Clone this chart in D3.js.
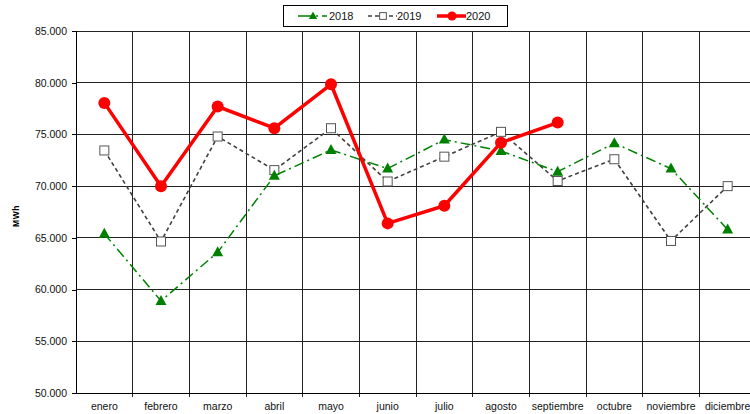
<!DOCTYPE html>
<html>
<head>
<meta charset="utf-8">
<script src="https://cdn.jsdelivr.net/npm/d3@7"></script>
<style>
  body { margin: 0; background: #fff; }
  svg { display: block; font-family: "Liberation Sans", Arial, sans-serif; }
</style>
</head>
<body>
<svg id="chart" width="750" height="414"></svg>
<script>
// data (MWh)
const months = ["enero", "febrero", "marzo", "abril", "mayo", "junio", "julio",
  "agosto", "septiembre", "octubre", "noviembre", "diciembre"];
const years = ["2018", "2019", "2020"];
const v2018 = [65400, 58900, 63600, 71000, 73500, 71700, 74500, 73400, 71400, 74150, 71700, 65800];
const v2019 = [73450, 64650, 74800, 71550, 75600, 70450, 72850, 75250, 70500, 72600, 64700, 70000];
const v2020 = [78050, 70000, 77700, 75600, 79850, 66400, 68100, 74200, 76150];
const yTicks = [50000, 55000, 60000, 65000, 70000, 75000, 80000, 85000];

const series = {
  "2018": {values: v2018, color: "#008000", width: 1.5, dash: "10,4,2,4", marker: "triangle"},
  "2019": {values: v2019, color: "#404040", width: 1.6, dash: "4,3", marker: "square"},
  "2020": {values: v2020, color: "#ff0000", width: 3.5, dash: null, marker: "circle"}
};

const locale = d3.formatLocale({decimal: ",", thousands: ".", grouping: [3], currency: ["", "€"]});
const fmt = locale.format(",.0f");

const svg = d3.select("#chart");
const plotLeft = 76, plotRight = 756, plotTop = 31, plotBottom = 393;

const x = d3.scaleBand().domain(months).range([plotLeft, plotRight]).padding(0);
const y = d3.scaleLinear().domain([50000, 85000]).range([plotBottom, plotTop]);

// grid
const grid = svg.append("g").attr("class", "grid").attr("shape-rendering", "crispEdges");
grid.selectAll("line.h")
  .data(yTicks)
  .enter().append("line")
  .attr("x1", plotLeft).attr("x2", plotRight)
  .attr("y1", d => y(d)).attr("y2", d => y(d))
  .attr("stroke", "#222").attr("stroke-width", 1);
grid.selectAll("line.v")
  .data(months.slice(1).concat(["__end"]))
  .enter().append("line")
  .attr("x1", d => d === "__end" ? plotRight : x(d))
  .attr("x2", d => d === "__end" ? plotRight : x(d))
  .attr("y1", plotTop).attr("y2", plotBottom + 4)
  .attr("stroke", "#222").attr("stroke-width", 1);

// y axis
const yAxis = svg.append("g")
  .attr("transform", `translate(${plotLeft},0)`)
  .call(d3.axisLeft(y).tickValues(yTicks).tickSize(4).tickPadding(5).tickFormat(fmt));
yAxis.select(".domain").attr("stroke", "#000").attr("shape-rendering", "crispEdges");
yAxis.selectAll(".tick line").attr("stroke", "#000").attr("shape-rendering", "crispEdges");
yAxis.selectAll(".tick text")
  .attr("font-family", "Liberation Sans, Arial, sans-serif")
  .attr("font-size", "10.5px").attr("fill", "#111");

// x axis
const xAxis = svg.append("g")
  .attr("transform", `translate(0,${plotBottom})`)
  .call(d3.axisBottom(x).tickSize(0).tickPadding(10));
xAxis.select(".domain").attr("stroke", "#000").attr("shape-rendering", "crispEdges");
xAxis.selectAll(".tick text")
  .attr("font-family", "Liberation Sans, Arial, sans-serif")
  .attr("font-size", "10.5px").attr("fill", "#111");

// y title
svg.append("text")
  .attr("transform", `translate(19,${(plotTop + plotBottom) / 2 + 4}) rotate(-90)`)
  .attr("text-anchor", "middle")
  .attr("font-size", "8.5px").attr("font-weight", "bold")
  .attr("letter-spacing", "0.6px")
  .text("MWh");

function drawMarker(g, type, cx, cy, s, k) {
  k = k || 1;
  if (type === "circle") {
    g.append("circle").attr("cx", cx).attr("cy", cy).attr("r", 6 * k).attr("fill", s.color);
  } else if (type === "square") {
    g.append("rect").attr("x", cx - 4.5 * k).attr("y", cy - 4.5 * k)
      .attr("width", 9 * k).attr("height", 9 * k)
      .attr("fill", "#fff").attr("stroke", "#555").attr("stroke-width", 1);
  } else {
    g.append("path")
      .attr("d", `M${cx},${cy - 6 * k}L${cx + 5.5 * k},${cy + 4 * k}L${cx - 5.5 * k},${cy + 4 * k}Z`)
      .attr("fill", s.color);
  }
}

// lines
const line = d3.line()
  .x((d, i) => x(months[i]) + x.bandwidth() / 2)
  .y(d => y(d));

["2019", "2018", "2020"].forEach(key => {
  const s = series[key];
  const g = svg.append("g");
  g.append("path")
    .attr("d", line(s.values))
    .attr("fill", "none")
    .attr("stroke", s.color)
    .attr("stroke-width", s.width)
    .attr("stroke-dasharray", s.dash)
    .attr("stroke-linejoin", "round");
  s.values.forEach((v, i) => {
    drawMarker(g, s.marker, x(months[i]) + x.bandwidth() / 2, y(v), s);
  });
});

// legend
const legend = svg.append("g");
legend.append("rect")
  .attr("x", 283.5).attr("y", 5.5).attr("width", 224).attr("height", 21)
  .attr("fill", "#fff").attr("stroke", "#000");
const legX = [298, 368, 437];
years.forEach((key, i) => {
  const s = series[key];
  const g = legend.append("g");
  g.append("line")
    .attr("x1", legX[i]).attr("x2", legX[i] + 29)
    .attr("y1", 16).attr("y2", 16)
    .attr("stroke", s.color).attr("stroke-width", s.width)
    .attr("stroke-dasharray", key === "2018" ? "14,4,2,4" : s.dash);
  drawMarker(g, s.marker, legX[i] + 15, 16, s, 0.75);
  g.append("text")
    .attr("x", legX[i] + (key === "2018" ? 31 : 29)).attr("y", 20)
    .attr("font-size", "11px").attr("fill", "#111")
    .text(key);
});
</script>
</body>
</html>
